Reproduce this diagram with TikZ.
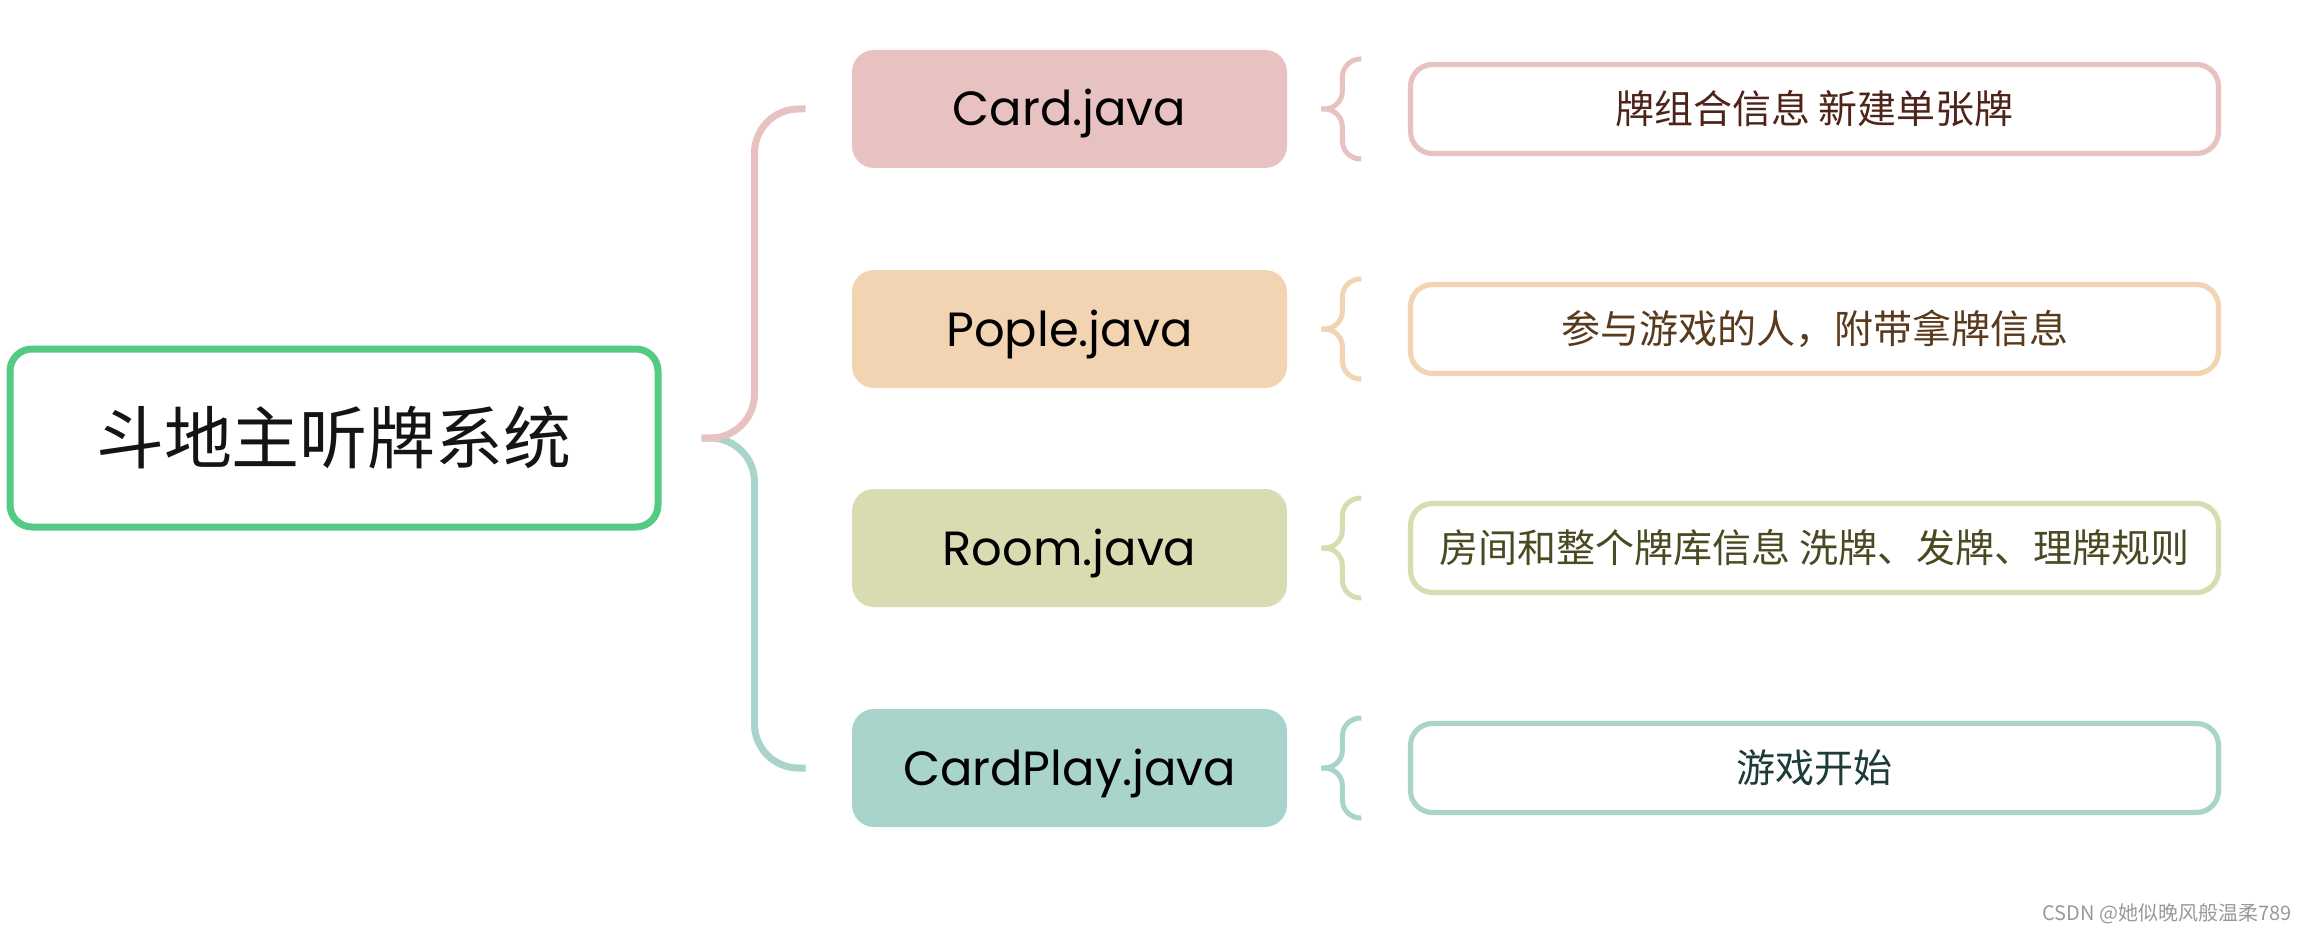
\documentclass[tikz,border=0pt]{standalone}
\usepackage{fontspec}
\setmainfont{Poppins}
\newfontfamily\cjk{Noto Sans CJK SC}
\usetikzlibrary{calc}
\definecolor{rootg}{HTML}{53CB84}
\definecolor{cpink}{HTML}{E8C2C1}
\definecolor{corange}{HTML}{F2D4B3}
\definecolor{colive}{HTML}{D9DCB0}
\definecolor{cteal}{HTML}{A9D4CB}
\definecolor{tpink}{HTML}{4E2418}
\definecolor{torange}{HTML}{5A3A1C}
\definecolor{tolive}{HTML}{4A4A22}
\definecolor{tteal}{HTML}{1E3C37}
\begin{document}
\begin{tikzpicture}[x=0.5pt,y=-0.5pt,
 rootbox/.style={draw=rootg, line width=3.5pt, rounded corners=11pt, fill=white,
   minimum width=324pt, minimum height=89pt, inner sep=0pt,
   font=\cjk\fontsize{34}{40}\selectfont, text=black!92},
 filebox/.style={fill=#1, rounded corners=11pt, minimum width=217.5pt,
   minimum height=59pt, inner sep=0pt, font=\fontsize{24}{28}\selectfont, text=black,
   text height=17pt, text depth=0pt},
 infobox/.style={draw=#1, line width=2.6pt, fill=white, rounded corners=11pt,
   minimum width=404pt, minimum height=44.5pt, inner sep=0pt,
   font=\cjk\fontsize{19.5}{24}\selectfont},
 bigbrace/.style={draw=#1, line width=3.5pt, rounded corners=22pt},
 smallbrace/.style={draw=#1, line width=2.5pt, rounded corners=9pt},
]
\useasboundingbox (0,0) rectangle (2304,931);

\node[rootbox] (root) at (334,438) {斗地主听牌系统};

\node[filebox=cpink]   (f1) at (1069.5,109) {Card.java};
\node[filebox=corange] (f2) at (1069.5,329) {Pople.java};
\node[filebox=colive]  (f3) at (1069.5,548) {Room.java};
\node[filebox=cteal]   (f4) at (1069.5,768) {CardPlay.java};

\node[infobox=cpink,   text=tpink]   (i1) at (1814.5,109) {牌组合信息 新建单张牌};
\node[infobox=corange, text=torange] (i2) at (1814.5,329) {参与游戏的人，附带拿牌信息};
\node[infobox=colive,  text=tolive]  (i3) at (1814.5,548) {房间和整个牌库信息 洗牌、发牌、理牌规则};
\node[infobox=cteal,   text=tteal]   (i4) at (1814.5,768) {游戏开始};

% big brace
\coordinate (j) at ($(root.east)+(40,0)$);
\coordinate (jm) at ($(j)+(53,0)$);
\coordinate (e1) at ($(f1.west)+(-46,0)$);
\coordinate (e4) at ($(f4.west)+(-46,0)$);
\draw[bigbrace=cteal] (j) -- (jm) |- (e4);
\draw[bigbrace=cpink] (j) -- (jm) |- (e1);

% small braces
\foreach \f/\c in {f1/cpink, f2/corange, f3/colive, f4/cteal}{
  \coordinate (t) at ($(\f.east)+(34,0)$);
  \draw[smallbrace=\c] ($(t)+(40,-50)$) -| ($(t)+(21,0)$) -- (t);
  \draw[smallbrace=\c] ($(t)+(40,50)$) -| ($(t)+(21,0)$) -- (t);
}

\node[anchor=south east, inner sep=0pt, text=black!40,
      font=\cjk\fontsize{10}{12}\selectfont] (wm) at (2292,924) {CSDN @她似晚风般温柔789};
\end{tikzpicture}
\end{document}
